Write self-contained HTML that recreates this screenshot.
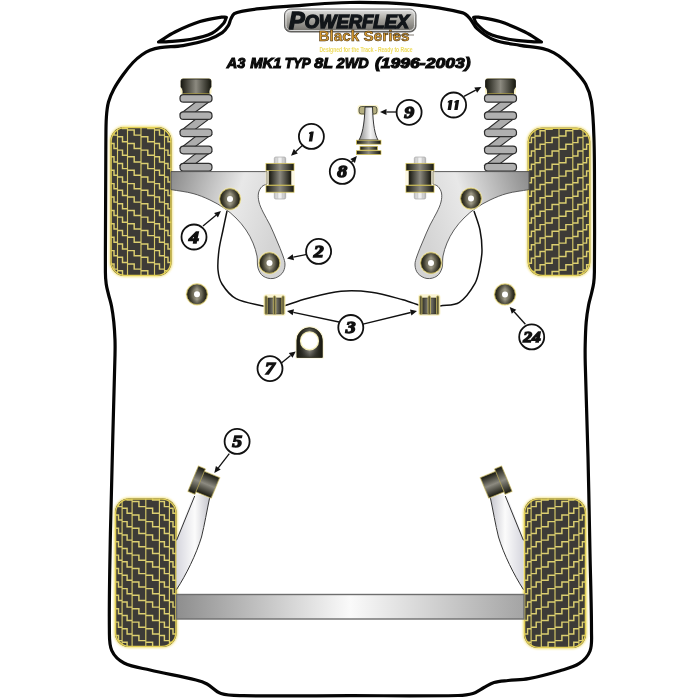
<!DOCTYPE html>
<html><head><meta charset="utf-8"><style>
html,body{margin:0;padding:0;background:#fff;width:700px;height:700px;overflow:hidden}
svg{display:block;font-family:"Liberation Sans", sans-serif;will-change:transform}
</style></head><body>
<svg width="700" height="700" viewBox="0 0 700 700">
<defs>
<linearGradient id="gMount" x1="0" x2="1" y1="0" y2="0">
<stop offset="0" stop-color="#18180f"/><stop offset="0.5" stop-color="#8c8a80"/><stop offset="1" stop-color="#18180f"/></linearGradient>
<linearGradient id="gBolt" x1="0" x2="1"><stop offset="0" stop-color="#c4c4c4"/><stop offset="0.5" stop-color="#f6f6f6"/><stop offset="1" stop-color="#b8b8b8"/></linearGradient>
<linearGradient id="gDonut" x1="0" x2="1" y1="0" y2="0">
<stop offset="0" stop-color="#2a2818"/><stop offset="0.5" stop-color="#a09c88"/><stop offset="1" stop-color="#2a2818"/></linearGradient>
<radialGradient id="gDonutR" cx="0.5" cy="0.5" r="0.5">
<stop offset="0.5" stop-color="#000" stop-opacity="0"/><stop offset="1" stop-color="#1a1a10" stop-opacity="0.6"/></radialGradient>
<linearGradient id="gArm" x1="0" x2="1" y1="0" y2="0.3">
<stop offset="0" stop-color="#8a8a8a"/><stop offset="0.6" stop-color="#e8e8e8"/><stop offset="1" stop-color="#d4d4d4"/></linearGradient>
<linearGradient id="gBeam" x1="0" x2="1" y1="0" y2="0">
<stop offset="0" stop-color="#8e8e8e"/><stop offset="0.5" stop-color="#fafafa"/><stop offset="1" stop-color="#a4a4a4"/></linearGradient>
<linearGradient id="gTrail" x1="0" x2="1" y1="0" y2="0">
<stop offset="0" stop-color="#d6d6de"/><stop offset="0.55" stop-color="#fbfbfb"/><stop offset="1" stop-color="#c4c4cc"/></linearGradient>
<linearGradient id="gMountV" x1="0" x2="0" y1="0" y2="1">
<stop offset="0" stop-color="#18180f"/><stop offset="0.5" stop-color="#8c8a80"/><stop offset="1" stop-color="#18180f"/></linearGradient>
<filter id="glow" x="-20%" y="-20%" width="140%" height="140%"><feGaussianBlur stdDeviation="1.3"/></filter>
<linearGradient id="gPillar" x1="0" x2="1"><stop offset="0" stop-color="#8a8a8a"/><stop offset="0.6" stop-color="#f4f4f4"/><stop offset="1" stop-color="#c8c8c8"/></linearGradient>
<linearGradient id="gLogo" x1="0" x2="0" y1="0" y2="1"><stop offset="0" stop-color="#e4e4e4"/><stop offset="0.45" stop-color="#a8a6a0"/><stop offset="1" stop-color="#6e6d68"/></linearGradient></defs>
<path d="M350.0,2.5 C371.01,2.23 392.08,2.77 413.00,4.70 C429.79,6.25 446.52,8.91 462.90,12.90 C465.85,13.62 467.97,16.34 470.00,18.60 C472.72,21.63 473.95,25.91 477.00,28.60 C482.18,33.16 487.86,37.50 494.30,40.00 C502.45,43.17 511.39,43.78 520.00,45.30 C527.59,46.64 535.37,46.92 542.90,48.60 C546.77,49.47 550.51,51.01 554.00,52.90 C557.60,54.84 560.89,57.35 564.00,60.00 C568.14,63.53 572.07,67.34 575.70,71.40 C579.32,75.46 583.18,79.48 585.70,84.30 C588.49,89.62 590.51,95.46 591.40,101.40 C593.30,114.15 593.59,127.11 594.00,140.00 C594.63,159.99 594.44,180.00 594.50,200.00 C594.57,224.00 594.63,248.00 594.40,272.00 C594.36,275.67 594.19,279.36 593.70,283.00 C593.25,286.38 592.37,289.68 591.60,293.00 C590.67,297.02 589.35,300.95 588.60,305.00 C587.55,310.63 586.68,316.30 586.20,322.00 C585.55,329.65 585.36,337.33 585.20,345.00 C585.06,351.67 585.13,358.34 585.30,365.00 C586.07,395.67 587.24,426.33 588.00,457.00 C588.80,489.33 589.35,521.67 590.00,554.00 C590.52,580.00 591.50,606.00 591.50,632.00 C591.50,638.35 592.28,645.07 590.00,651.00 C588.04,656.07 583.95,660.42 579.40,663.40 C573.62,667.19 566.62,668.72 560.00,670.70 C549.66,673.79 539.21,676.60 528.60,678.60 C521.82,679.88 514.85,679.73 508.00,680.50 C503.32,681.03 498.53,681.18 494.00,682.50 C490.42,683.54 487.30,685.77 484.00,687.50 C480.30,689.44 476.99,692.27 473.00,693.50 C468.18,694.98 463.04,695.41 458.00,695.50 C422.01,696.14 386.00,695.67 350.00,695.70 C314.33,695.73 278.66,696.28 243.00,695.70 C235.63,695.58 228.01,695.88 221.00,693.60 C215.62,691.85 211.97,686.70 207.00,684.00 C203.57,682.14 199.79,680.93 196.00,680.00 C180.76,676.26 165.27,673.61 150.00,670.00 C141.26,667.94 132.01,667.05 124.00,663.00 C118.85,660.40 114.20,655.95 111.80,650.70 C109.05,644.68 109.48,637.61 109.40,631.00 C109.01,598.67 109.83,566.33 110.40,534.00 C110.97,501.66 111.97,469.33 112.80,437.00 C113.50,409.67 114.38,382.34 115.00,355.00 C115.11,350.00 115.18,345.00 115.00,340.00 C114.78,333.99 114.42,327.98 113.80,322.00 C113.25,316.64 112.52,311.29 111.50,306.00 C110.72,301.94 109.37,298.02 108.40,294.00 C107.60,290.68 106.66,287.38 106.20,284.00 C105.66,280.03 105.41,276.01 105.40,272.00 C105.31,228.00 105.62,184.00 105.90,140.00 C105.95,132.33 105.88,124.65 106.40,117.00 C106.74,111.96 107.19,106.88 108.50,102.00 C109.71,97.47 111.69,93.14 113.90,89.00 C116.51,84.10 119.66,79.50 122.90,75.00 C126.03,70.65 129.32,66.39 133.00,62.50 C135.71,59.63 138.79,57.10 142.00,54.80 C144.49,53.02 147.16,51.44 150.00,50.30 C153.21,49.02 156.58,48.09 160.00,47.60 C167.59,46.52 175.34,46.87 182.90,45.60 C191.59,44.13 200.23,42.16 208.60,39.40 C213.44,37.80 218.11,35.51 222.30,32.60 C224.80,30.86 226.68,28.28 228.30,25.70 C229.59,23.64 229.81,21.07 230.90,18.90 C231.83,17.05 232.56,14.83 234.30,13.70 C236.81,12.07 239.96,11.68 242.90,11.10 C248.55,9.98 254.27,9.22 260.00,8.60 C268.98,7.62 277.99,6.91 287.00,6.30 C307.99,4.88 328.96,2.77 350.00,2.50Z" fill="#fff" stroke="#050505" stroke-width="3.2" stroke-linejoin="round"/>
<path d="M158.5,42.0 C164.00,38.67 169.23,34.84 175.00,32.00 C183.10,28.02 191.40,24.34 200.00,21.60 C206.97,19.38 214.28,18.38 221.50,17.20 C223.11,16.94 224.77,17.27 226.40,17.30 C225.43,19.37 225.03,21.81 223.50,23.50 C220.13,27.22 216.50,31.00 212.00,33.20 C205.58,36.34 198.43,37.89 191.40,39.20 C183.03,40.76 174.48,41.08 166.00,41.80 C163.51,42.01 161.00,41.93 158.50,42.00Z" fill="#fff" stroke="#050505" stroke-width="3.2" stroke-linejoin="round"/>
<path d="M158.5,42.0 C164.00,38.67 169.23,34.84 175.00,32.00 C183.10,28.02 191.40,24.34 200.00,21.60 C206.97,19.38 214.28,18.38 221.50,17.20 C223.11,16.94 224.77,17.27 226.40,17.30 C225.43,19.37 225.03,21.81 223.50,23.50 C220.13,27.22 216.50,31.00 212.00,33.20 C205.58,36.34 198.43,37.89 191.40,39.20 C183.03,40.76 174.48,41.08 166.00,41.80 C163.51,42.01 161.00,41.93 158.50,42.00Z" transform="translate(700,0) scale(-1,1)" fill="#fff" stroke="#050505" stroke-width="3.2" stroke-linejoin="round"/>
<clipPath id="flc"><rect x="110.5" y="127" width="61" height="149" rx="14"/></clipPath>
<rect x="109.5" y="126" width="63" height="151" rx="15" fill="#f3e27a" filter="url(#glow)"/>
<rect x="110.5" y="127" width="61" height="149" rx="14" fill="#3d3b37"/>
<path clip-path="url(#flc)" d="M117.5,127.0V276.0 M127.5,127.0V276.0 M141.0,127.0V276.0 M154.5,127.0V276.0 M164.5,127.0V276.0" stroke="#d9cb68" stroke-width="1.15" fill="none"/>
<path clip-path="url(#flc)" d="M110.5,116.6H114.0V121.7H117.5 M110.5,130.0H114.0V135.1H117.5 M110.5,143.4H114.0V148.5H117.5 M110.5,156.8H114.0V161.9H117.5 M110.5,170.2H114.0V175.3H117.5 M110.5,183.6H114.0V188.7H117.5 M110.5,197.0H114.0V202.1H117.5 M110.5,210.4H114.0V215.5H117.5 M110.5,223.8H114.0V228.9H117.5 M110.5,237.2H114.0V242.3H117.5 M110.5,250.6H114.0V255.7H117.5 M110.5,264.0H114.0V269.1H117.5 M110.5,277.4H114.0V282.5H117.5 M117.5,109.9H122.5V115.0H127.5 M117.5,123.3H122.5V128.4H127.5 M117.5,136.7H122.5V141.8H127.5 M117.5,150.1H122.5V155.2H127.5 M117.5,163.5H122.5V168.6H127.5 M117.5,176.9H122.5V182.0H127.5 M117.5,190.3H122.5V195.4H127.5 M117.5,203.7H122.5V208.8H127.5 M117.5,217.1H122.5V222.2H127.5 M117.5,230.5H122.5V235.6H127.5 M117.5,243.9H122.5V249.0H127.5 M117.5,257.3H122.5V262.4H127.5 M117.5,270.7H122.5V275.8H127.5 M117.5,284.1H122.5V289.2H127.5 M127.5,116.6H134.2V121.7H141.0 M127.5,130.0H134.2V135.1H141.0 M127.5,143.4H134.2V148.5H141.0 M127.5,156.8H134.2V161.9H141.0 M127.5,170.2H134.2V175.3H141.0 M127.5,183.6H134.2V188.7H141.0 M127.5,197.0H134.2V202.1H141.0 M127.5,210.4H134.2V215.5H141.0 M127.5,223.8H134.2V228.9H141.0 M127.5,237.2H134.2V242.3H141.0 M127.5,250.6H134.2V255.7H141.0 M127.5,264.0H134.2V269.1H141.0 M127.5,277.4H134.2V282.5H141.0 M141.0,109.9H147.8V115.0H154.5 M141.0,123.3H147.8V128.4H154.5 M141.0,136.7H147.8V141.8H154.5 M141.0,150.1H147.8V155.2H154.5 M141.0,163.5H147.8V168.6H154.5 M141.0,176.9H147.8V182.0H154.5 M141.0,190.3H147.8V195.4H154.5 M141.0,203.7H147.8V208.8H154.5 M141.0,217.1H147.8V222.2H154.5 M141.0,230.5H147.8V235.6H154.5 M141.0,243.9H147.8V249.0H154.5 M141.0,257.3H147.8V262.4H154.5 M141.0,270.7H147.8V275.8H154.5 M141.0,284.1H147.8V289.2H154.5 M154.5,116.6H159.5V121.7H164.5 M154.5,130.0H159.5V135.1H164.5 M154.5,143.4H159.5V148.5H164.5 M154.5,156.8H159.5V161.9H164.5 M154.5,170.2H159.5V175.3H164.5 M154.5,183.6H159.5V188.7H164.5 M154.5,197.0H159.5V202.1H164.5 M154.5,210.4H159.5V215.5H164.5 M154.5,223.8H159.5V228.9H164.5 M154.5,237.2H159.5V242.3H164.5 M154.5,250.6H159.5V255.7H164.5 M154.5,264.0H159.5V269.1H164.5 M154.5,277.4H159.5V282.5H164.5 M164.5,109.9H168.0V115.0H171.5 M164.5,123.3H168.0V128.4H171.5 M164.5,136.7H168.0V141.8H171.5 M164.5,150.1H168.0V155.2H171.5 M164.5,163.5H168.0V168.6H171.5 M164.5,176.9H168.0V182.0H171.5 M164.5,190.3H168.0V195.4H171.5 M164.5,203.7H168.0V208.8H171.5 M164.5,217.1H168.0V222.2H171.5 M164.5,230.5H168.0V235.6H171.5 M164.5,243.9H168.0V249.0H171.5 M164.5,257.3H168.0V262.4H171.5 M164.5,270.7H168.0V275.8H171.5 M164.5,284.1H168.0V289.2H171.5" stroke="#dccf70" stroke-width="1.45" fill="none"/>
<rect x="111.1" y="127.6" width="59.8" height="147.8" rx="14" fill="none" stroke="#e2cf55" stroke-width="1.4"/>
<clipPath id="frc"><rect x="527.8" y="127.8" width="62.4" height="148.2" rx="14"/></clipPath>
<rect x="526.8" y="126.8" width="64.4" height="150.2" rx="15" fill="#f3e27a" filter="url(#glow)"/>
<rect x="527.8" y="127.8" width="62.4" height="148.2" rx="14" fill="#3d3b37"/>
<path clip-path="url(#frc)" d="M535.0,127.8V276.0 M545.2,127.8V276.0 M559.0,127.8V276.0 M572.8,127.8V276.0 M583.0,127.8V276.0" stroke="#d9cb68" stroke-width="1.15" fill="none"/>
<path clip-path="url(#frc)" d="M590.2,117.4H586.6V122.5H583.0 M590.2,130.8H586.6V135.9H583.0 M590.2,144.2H586.6V149.3H583.0 M590.2,157.6H586.6V162.7H583.0 M590.2,171.0H586.6V176.1H583.0 M590.2,184.4H586.6V189.5H583.0 M590.2,197.8H586.6V202.9H583.0 M590.2,211.2H586.6V216.3H583.0 M590.2,224.6H586.6V229.7H583.0 M590.2,238.0H586.6V243.1H583.0 M590.2,251.4H586.6V256.5H583.0 M590.2,264.8H586.6V269.9H583.0 M590.2,278.2H586.6V283.3H583.0 M583.0,110.7H577.9V115.8H572.8 M583.0,124.1H577.9V129.2H572.8 M583.0,137.5H577.9V142.6H572.8 M583.0,150.9H577.9V156.0H572.8 M583.0,164.3H577.9V169.4H572.8 M583.0,177.7H577.9V182.8H572.8 M583.0,191.1H577.9V196.2H572.8 M583.0,204.5H577.9V209.6H572.8 M583.0,217.9H577.9V223.0H572.8 M583.0,231.3H577.9V236.4H572.8 M583.0,244.7H577.9V249.8H572.8 M583.0,258.1H577.9V263.2H572.8 M583.0,271.5H577.9V276.6H572.8 M583.0,284.9H577.9V290.0H572.8 M572.8,117.4H565.9V122.5H559.0 M572.8,130.8H565.9V135.9H559.0 M572.8,144.2H565.9V149.3H559.0 M572.8,157.6H565.9V162.7H559.0 M572.8,171.0H565.9V176.1H559.0 M572.8,184.4H565.9V189.5H559.0 M572.8,197.8H565.9V202.9H559.0 M572.8,211.2H565.9V216.3H559.0 M572.8,224.6H565.9V229.7H559.0 M572.8,238.0H565.9V243.1H559.0 M572.8,251.4H565.9V256.5H559.0 M572.8,264.8H565.9V269.9H559.0 M572.8,278.2H565.9V283.3H559.0 M559.0,110.7H552.1V115.8H545.2 M559.0,124.1H552.1V129.2H545.2 M559.0,137.5H552.1V142.6H545.2 M559.0,150.9H552.1V156.0H545.2 M559.0,164.3H552.1V169.4H545.2 M559.0,177.7H552.1V182.8H545.2 M559.0,191.1H552.1V196.2H545.2 M559.0,204.5H552.1V209.6H545.2 M559.0,217.9H552.1V223.0H545.2 M559.0,231.3H552.1V236.4H545.2 M559.0,244.7H552.1V249.8H545.2 M559.0,258.1H552.1V263.2H545.2 M559.0,271.5H552.1V276.6H545.2 M559.0,284.9H552.1V290.0H545.2 M545.2,117.4H540.1V122.5H535.0 M545.2,130.8H540.1V135.9H535.0 M545.2,144.2H540.1V149.3H535.0 M545.2,157.6H540.1V162.7H535.0 M545.2,171.0H540.1V176.1H535.0 M545.2,184.4H540.1V189.5H535.0 M545.2,197.8H540.1V202.9H535.0 M545.2,211.2H540.1V216.3H535.0 M545.2,224.6H540.1V229.7H535.0 M545.2,238.0H540.1V243.1H535.0 M545.2,251.4H540.1V256.5H535.0 M545.2,264.8H540.1V269.9H535.0 M545.2,278.2H540.1V283.3H535.0 M535.0,110.7H531.4V115.8H527.8 M535.0,124.1H531.4V129.2H527.8 M535.0,137.5H531.4V142.6H527.8 M535.0,150.9H531.4V156.0H527.8 M535.0,164.3H531.4V169.4H527.8 M535.0,177.7H531.4V182.8H527.8 M535.0,191.1H531.4V196.2H527.8 M535.0,204.5H531.4V209.6H527.8 M535.0,217.9H531.4V223.0H527.8 M535.0,231.3H531.4V236.4H527.8 M535.0,244.7H531.4V249.8H527.8 M535.0,258.1H531.4V263.2H527.8 M535.0,271.5H531.4V276.6H527.8 M535.0,284.9H531.4V290.0H527.8" stroke="#dccf70" stroke-width="1.45" fill="none"/>
<rect x="528.4" y="128.4" width="61.199999999999996" height="147.0" rx="14" fill="none" stroke="#e2cf55" stroke-width="1.4"/>
<clipPath id="rlc"><rect x="115" y="498.5" width="61.5" height="148.5" rx="14"/></clipPath>
<rect x="114" y="497.5" width="63.5" height="150.5" rx="15" fill="#f3e27a" filter="url(#glow)"/>
<rect x="115" y="498.5" width="61.5" height="148.5" rx="14" fill="#3d3b37"/>
<path clip-path="url(#rlc)" d="M122.1,498.5V647.0 M132.1,498.5V647.0 M145.8,498.5V647.0 M159.4,498.5V647.0 M169.4,498.5V647.0" stroke="#d9cb68" stroke-width="1.15" fill="none"/>
<path clip-path="url(#rlc)" d="M115.0,488.1H118.5V493.2H122.1 M115.0,501.5H118.5V506.6H122.1 M115.0,514.9H118.5V520.0H122.1 M115.0,528.3H118.5V533.4H122.1 M115.0,541.7H118.5V546.8H122.1 M115.0,555.1H118.5V560.2H122.1 M115.0,568.5H118.5V573.6H122.1 M115.0,581.9H118.5V587.0H122.1 M115.0,595.3H118.5V600.4H122.1 M115.0,608.7H118.5V613.8H122.1 M115.0,622.1H118.5V627.2H122.1 M115.0,635.5H118.5V640.6H122.1 M115.0,648.9H118.5V654.0H122.1 M122.1,481.4H127.1V486.5H132.1 M122.1,494.8H127.1V499.9H132.1 M122.1,508.2H127.1V513.3H132.1 M122.1,521.6H127.1V526.7H132.1 M122.1,535.0H127.1V540.1H132.1 M122.1,548.4H127.1V553.5H132.1 M122.1,561.8H127.1V566.9H132.1 M122.1,575.2H127.1V580.3H132.1 M122.1,588.6H127.1V593.7H132.1 M122.1,602.0H127.1V607.1H132.1 M122.1,615.4H127.1V620.5H132.1 M122.1,628.8H127.1V633.9H132.1 M122.1,642.2H127.1V647.3H132.1 M122.1,655.6H127.1V660.7H132.1 M132.1,488.1H138.9V493.2H145.8 M132.1,501.5H138.9V506.6H145.8 M132.1,514.9H138.9V520.0H145.8 M132.1,528.3H138.9V533.4H145.8 M132.1,541.7H138.9V546.8H145.8 M132.1,555.1H138.9V560.2H145.8 M132.1,568.5H138.9V573.6H145.8 M132.1,581.9H138.9V587.0H145.8 M132.1,595.3H138.9V600.4H145.8 M132.1,608.7H138.9V613.8H145.8 M132.1,622.1H138.9V627.2H145.8 M132.1,635.5H138.9V640.6H145.8 M132.1,648.9H138.9V654.0H145.8 M145.8,481.4H152.6V486.5H159.4 M145.8,494.8H152.6V499.9H159.4 M145.8,508.2H152.6V513.3H159.4 M145.8,521.6H152.6V526.7H159.4 M145.8,535.0H152.6V540.1H159.4 M145.8,548.4H152.6V553.5H159.4 M145.8,561.8H152.6V566.9H159.4 M145.8,575.2H152.6V580.3H159.4 M145.8,588.6H152.6V593.7H159.4 M145.8,602.0H152.6V607.1H159.4 M145.8,615.4H152.6V620.5H159.4 M145.8,628.8H152.6V633.9H159.4 M145.8,642.2H152.6V647.3H159.4 M145.8,655.6H152.6V660.7H159.4 M159.4,488.1H164.4V493.2H169.4 M159.4,501.5H164.4V506.6H169.4 M159.4,514.9H164.4V520.0H169.4 M159.4,528.3H164.4V533.4H169.4 M159.4,541.7H164.4V546.8H169.4 M159.4,555.1H164.4V560.2H169.4 M159.4,568.5H164.4V573.6H169.4 M159.4,581.9H164.4V587.0H169.4 M159.4,595.3H164.4V600.4H169.4 M159.4,608.7H164.4V613.8H169.4 M159.4,622.1H164.4V627.2H169.4 M159.4,635.5H164.4V640.6H169.4 M159.4,648.9H164.4V654.0H169.4 M169.4,481.4H173.0V486.5H176.5 M169.4,494.8H173.0V499.9H176.5 M169.4,508.2H173.0V513.3H176.5 M169.4,521.6H173.0V526.7H176.5 M169.4,535.0H173.0V540.1H176.5 M169.4,548.4H173.0V553.5H176.5 M169.4,561.8H173.0V566.9H176.5 M169.4,575.2H173.0V580.3H176.5 M169.4,588.6H173.0V593.7H176.5 M169.4,602.0H173.0V607.1H176.5 M169.4,615.4H173.0V620.5H176.5 M169.4,628.8H173.0V633.9H176.5 M169.4,642.2H173.0V647.3H176.5 M169.4,655.6H173.0V660.7H176.5" stroke="#dccf70" stroke-width="1.45" fill="none"/>
<rect x="115.6" y="499.1" width="60.3" height="147.3" rx="14" fill="none" stroke="#e2cf55" stroke-width="1.4"/>
<clipPath id="rrc"><rect x="524" y="498.5" width="62" height="149.5" rx="14"/></clipPath>
<rect x="523" y="497.5" width="64" height="151.5" rx="15" fill="#f3e27a" filter="url(#glow)"/>
<rect x="524" y="498.5" width="62" height="149.5" rx="14" fill="#3d3b37"/>
<path clip-path="url(#rrc)" d="M531.1,498.5V648.0 M541.3,498.5V648.0 M555.0,498.5V648.0 M568.7,498.5V648.0 M578.9,498.5V648.0" stroke="#d9cb68" stroke-width="1.15" fill="none"/>
<path clip-path="url(#rrc)" d="M586.0,488.1H582.4V493.2H578.9 M586.0,501.5H582.4V506.6H578.9 M586.0,514.9H582.4V520.0H578.9 M586.0,528.3H582.4V533.4H578.9 M586.0,541.7H582.4V546.8H578.9 M586.0,555.1H582.4V560.2H578.9 M586.0,568.5H582.4V573.6H578.9 M586.0,581.9H582.4V587.0H578.9 M586.0,595.3H582.4V600.4H578.9 M586.0,608.7H582.4V613.8H578.9 M586.0,622.1H582.4V627.2H578.9 M586.0,635.5H582.4V640.6H578.9 M586.0,648.9H582.4V654.0H578.9 M578.9,481.4H573.8V486.5H568.7 M578.9,494.8H573.8V499.9H568.7 M578.9,508.2H573.8V513.3H568.7 M578.9,521.6H573.8V526.7H568.7 M578.9,535.0H573.8V540.1H568.7 M578.9,548.4H573.8V553.5H568.7 M578.9,561.8H573.8V566.9H568.7 M578.9,575.2H573.8V580.3H568.7 M578.9,588.6H573.8V593.7H568.7 M578.9,602.0H573.8V607.1H568.7 M578.9,615.4H573.8V620.5H568.7 M578.9,628.8H573.8V633.9H568.7 M578.9,642.2H573.8V647.3H568.7 M578.9,655.6H573.8V660.7H568.7 M568.7,488.1H561.9V493.2H555.0 M568.7,501.5H561.9V506.6H555.0 M568.7,514.9H561.9V520.0H555.0 M568.7,528.3H561.9V533.4H555.0 M568.7,541.7H561.9V546.8H555.0 M568.7,555.1H561.9V560.2H555.0 M568.7,568.5H561.9V573.6H555.0 M568.7,581.9H561.9V587.0H555.0 M568.7,595.3H561.9V600.4H555.0 M568.7,608.7H561.9V613.8H555.0 M568.7,622.1H561.9V627.2H555.0 M568.7,635.5H561.9V640.6H555.0 M568.7,648.9H561.9V654.0H555.0 M555.0,481.4H548.1V486.5H541.3 M555.0,494.8H548.1V499.9H541.3 M555.0,508.2H548.1V513.3H541.3 M555.0,521.6H548.1V526.7H541.3 M555.0,535.0H548.1V540.1H541.3 M555.0,548.4H548.1V553.5H541.3 M555.0,561.8H548.1V566.9H541.3 M555.0,575.2H548.1V580.3H541.3 M555.0,588.6H548.1V593.7H541.3 M555.0,602.0H548.1V607.1H541.3 M555.0,615.4H548.1V620.5H541.3 M555.0,628.8H548.1V633.9H541.3 M555.0,642.2H548.1V647.3H541.3 M555.0,655.6H548.1V660.7H541.3 M541.3,488.1H536.2V493.2H531.1 M541.3,501.5H536.2V506.6H531.1 M541.3,514.9H536.2V520.0H531.1 M541.3,528.3H536.2V533.4H531.1 M541.3,541.7H536.2V546.8H531.1 M541.3,555.1H536.2V560.2H531.1 M541.3,568.5H536.2V573.6H531.1 M541.3,581.9H536.2V587.0H531.1 M541.3,595.3H536.2V600.4H531.1 M541.3,608.7H536.2V613.8H531.1 M541.3,622.1H536.2V627.2H531.1 M541.3,635.5H536.2V640.6H531.1 M541.3,648.9H536.2V654.0H531.1 M531.1,481.4H527.6V486.5H524.0 M531.1,494.8H527.6V499.9H524.0 M531.1,508.2H527.6V513.3H524.0 M531.1,521.6H527.6V526.7H524.0 M531.1,535.0H527.6V540.1H524.0 M531.1,548.4H527.6V553.5H524.0 M531.1,561.8H527.6V566.9H524.0 M531.1,575.2H527.6V580.3H524.0 M531.1,588.6H527.6V593.7H524.0 M531.1,602.0H527.6V607.1H524.0 M531.1,615.4H527.6V620.5H524.0 M531.1,628.8H527.6V633.9H524.0 M531.1,642.2H527.6V647.3H524.0 M531.1,655.6H527.6V660.7H524.0" stroke="#dccf70" stroke-width="1.45" fill="none"/>
<rect x="524.6" y="499.1" width="60.8" height="148.3" rx="14" fill="none" stroke="#e2cf55" stroke-width="1.4"/>
<rect x="180.5" y="78" width="31" height="17" rx="3" fill="#f8eeb0" opacity="0.7"/>
<path d="M181,81 Q181,79 183,79 H209 Q211,79 211,81 V87 Q209,89 209,91 V94 H183 V91 Q183,89 181,87 Z" fill="url(#gMount)" stroke="#1a1a1a" stroke-width="0.8"/>
<line x1="183" y1="94" x2="209" y2="94" stroke="#e0cc50" stroke-width="1"/>
<path d="M198.08,100.19999999999999 L211.18,100.19999999999999 L193.12,113.8 L180.52,113.8 Z" fill="#adadad" stroke="#2a2a2a" stroke-width="1.1"/>
<path d="M198.08,117.39999999999999 L211.18,117.39999999999999 L193.12,131.0 L180.52,131.0 Z" fill="#adadad" stroke="#2a2a2a" stroke-width="1.1"/>
<path d="M198.08,134.6 L211.18,134.6 L193.12,148.2 L180.52,148.2 Z" fill="#adadad" stroke="#2a2a2a" stroke-width="1.1"/>
<path d="M198.08,151.79999999999998 L211.18,151.79999999999998 L193.12,165.4 L180.52,165.4 Z" fill="#adadad" stroke="#2a2a2a" stroke-width="1.1"/>
<rect x="180" y="94.6" width="32" height="7.6" rx="3.5" fill="#b0b0b0" stroke="#2e2e2e" stroke-width="1.2"/>
<rect x="180" y="111.8" width="32" height="7.6" rx="3.5" fill="#b0b0b0" stroke="#2e2e2e" stroke-width="1.2"/>
<rect x="180" y="129.0" width="32" height="7.6" rx="3.5" fill="#b0b0b0" stroke="#2e2e2e" stroke-width="1.2"/>
<rect x="180" y="146.2" width="32" height="7.6" rx="3.5" fill="#b0b0b0" stroke="#2e2e2e" stroke-width="1.2"/>
<rect x="180" y="163.4" width="32" height="7.6" rx="3.5" fill="#b0b0b0" stroke="#2e2e2e" stroke-width="1.2"/>
<rect x="485.0" y="78" width="31" height="17" rx="3" fill="#f8eeb0" opacity="0.7"/>
<path d="M485.5,81 Q485.5,79 487.5,79 H513.5 Q515.5,79 515.5,81 V87 Q513.5,89 513.5,91 V94 H487.5 V91 Q487.5,89 485.5,87 Z" fill="url(#gMount)" stroke="#1a1a1a" stroke-width="0.8"/>
<line x1="487.5" y1="94" x2="513.5" y2="94" stroke="#e0cc50" stroke-width="1"/>
<path d="M502.58,100.19999999999999 L515.68,100.19999999999999 L497.62,113.8 L485.02,113.8 Z" fill="#adadad" stroke="#2a2a2a" stroke-width="1.1"/>
<path d="M502.58,117.39999999999999 L515.68,117.39999999999999 L497.62,131.0 L485.02,131.0 Z" fill="#adadad" stroke="#2a2a2a" stroke-width="1.1"/>
<path d="M502.58,134.6 L515.68,134.6 L497.62,148.2 L485.02,148.2 Z" fill="#adadad" stroke="#2a2a2a" stroke-width="1.1"/>
<path d="M502.58,151.79999999999998 L515.68,151.79999999999998 L497.62,165.4 L485.02,165.4 Z" fill="#adadad" stroke="#2a2a2a" stroke-width="1.1"/>
<rect x="484.5" y="94.6" width="32" height="7.6" rx="3.5" fill="#b0b0b0" stroke="#2e2e2e" stroke-width="1.2"/>
<rect x="484.5" y="111.8" width="32" height="7.6" rx="3.5" fill="#b0b0b0" stroke="#2e2e2e" stroke-width="1.2"/>
<rect x="484.5" y="129.0" width="32" height="7.6" rx="3.5" fill="#b0b0b0" stroke="#2e2e2e" stroke-width="1.2"/>
<rect x="484.5" y="146.2" width="32" height="7.6" rx="3.5" fill="#b0b0b0" stroke="#2e2e2e" stroke-width="1.2"/>
<rect x="484.5" y="163.4" width="32" height="7.6" rx="3.5" fill="#b0b0b0" stroke="#2e2e2e" stroke-width="1.2"/>
<path d="M171,171.6 H267 V184 C265.33,184.83 263.28,185.15 262.00,186.50 C260.31,188.29 258.97,190.58 258.50,193.00 C257.93,195.95 258.31,199.08 259.00,202.00 C259.83,205.49 261.45,208.76 263.00,212.00 C265.12,216.44 267.86,220.57 270.00,225.00 C272.53,230.24 274.75,235.63 277.00,241.00 C279.08,245.97 281.30,250.89 283.00,256.00 C283.97,258.92 285.18,261.93 285.00,265.00 C284.83,268.00 284.00,271.25 282.00,273.50 C279.72,276.07 276.40,278.05 273.00,278.50 C269.59,278.95 265.81,277.97 263.00,276.00 C260.42,274.20 258.90,271.01 258.00,268.00 C256.85,264.16 257.79,259.94 257.00,256.00 C256.11,251.55 254.77,247.18 253.00,243.00 C251.08,238.47 248.77,234.07 246.00,230.00 C243.07,225.69 239.68,221.68 236.00,218.00 C232.32,214.32 228.28,210.96 224.00,208.00 C219.58,204.94 214.87,202.28 210.00,200.00 C204.50,197.43 198.86,195.06 193.00,193.50 C185.80,191.58 178.33,190.90 171.00,189.60 Z" fill="url(#gArm)" stroke="#4a4a4a" stroke-width="0.9"/>
<g transform="translate(700,0) scale(-1,1)"><path d="M171,171.6 H267 V184 C265.33,184.83 263.28,185.15 262.00,186.50 C260.31,188.29 258.97,190.58 258.50,193.00 C257.93,195.95 258.31,199.08 259.00,202.00 C259.83,205.49 261.45,208.76 263.00,212.00 C265.12,216.44 267.86,220.57 270.00,225.00 C272.53,230.24 274.75,235.63 277.00,241.00 C279.08,245.97 281.30,250.89 283.00,256.00 C283.97,258.92 285.18,261.93 285.00,265.00 C284.83,268.00 284.00,271.25 282.00,273.50 C279.72,276.07 276.40,278.05 273.00,278.50 C269.59,278.95 265.81,277.97 263.00,276.00 C260.42,274.20 258.90,271.01 258.00,268.00 C256.85,264.16 257.79,259.94 257.00,256.00 C256.11,251.55 254.77,247.18 253.00,243.00 C251.08,238.47 248.77,234.07 246.00,230.00 C243.07,225.69 239.68,221.68 236.00,218.00 C232.32,214.32 228.28,210.96 224.00,208.00 C219.58,204.94 214.87,202.28 210.00,200.00 C204.50,197.43 198.86,195.06 193.00,193.50 C185.80,191.58 178.33,190.90 171.00,189.60 Z" fill="url(#gArm)" stroke="#4a4a4a" stroke-width="0.9"/></g>
<rect x="274.3" y="157" width="11.4" height="42" rx="1.5" fill="url(#gBolt)" stroke="#9a9a9a" stroke-width="0.6"/>
<line x1="277.6" y1="157.5" x2="277.6" y2="198.5" stroke="#bdbdbd" stroke-width="0.5"/><line x1="282.4" y1="157.5" x2="282.4" y2="198.5" stroke="#bdbdbd" stroke-width="0.5"/>
<rect x="265.2" y="162.8" width="29.6" height="30.4" fill="#f6ecb0" opacity="0.35"/>
<rect x="269" y="170.5" width="22" height="15" fill="url(#gMount)" stroke="#3a3520" stroke-width="0.6"/>
<line x1="269" y1="185.3" x2="291" y2="185.3" stroke="#d8cc60" stroke-width="1.2"/>
<rect x="266" y="163.6" width="28" height="7" fill="url(#gMount)" stroke="#cdbd58" stroke-width="0.7"/>
<rect x="266" y="185.6" width="28" height="6.6" fill="url(#gMount)" stroke="#cdbd58" stroke-width="0.7"/>
<rect x="414.3" y="157" width="11.4" height="42" rx="1.5" fill="url(#gBolt)" stroke="#9a9a9a" stroke-width="0.6"/>
<line x1="417.6" y1="157.5" x2="417.6" y2="198.5" stroke="#bdbdbd" stroke-width="0.5"/><line x1="422.4" y1="157.5" x2="422.4" y2="198.5" stroke="#bdbdbd" stroke-width="0.5"/>
<rect x="405.2" y="162.8" width="29.6" height="30.4" fill="#f6ecb0" opacity="0.35"/>
<rect x="409" y="170.5" width="22" height="15" fill="url(#gMount)" stroke="#3a3520" stroke-width="0.6"/>
<line x1="409" y1="185.3" x2="431" y2="185.3" stroke="#d8cc60" stroke-width="1.2"/>
<rect x="406" y="163.6" width="28" height="7" fill="url(#gMount)" stroke="#cdbd58" stroke-width="0.7"/>
<rect x="406" y="185.6" width="28" height="6.6" fill="url(#gMount)" stroke="#cdbd58" stroke-width="0.7"/>
<circle cx="230" cy="199" r="11.4" fill="#f6ecb0" opacity="0.7"/>
<circle cx="230" cy="199" r="10.4" fill="url(#gDonut)"/>
<circle cx="230" cy="199" r="10.4" fill="url(#gDonutR)" stroke="#d9c96a" stroke-width="0.8"/>
<circle cx="230" cy="199" r="3" fill="#fff"/>
<circle cx="269.5" cy="263" r="11.4" fill="#f6ecb0" opacity="0.7"/>
<circle cx="269.5" cy="263" r="10.4" fill="url(#gDonut)"/>
<circle cx="269.5" cy="263" r="10.4" fill="url(#gDonutR)" stroke="#d9c96a" stroke-width="0.8"/>
<circle cx="269.5" cy="263" r="3" fill="#fff"/>
<circle cx="471" cy="198.6" r="11.4" fill="#f6ecb0" opacity="0.7"/>
<circle cx="471" cy="198.6" r="10.4" fill="url(#gDonut)"/>
<circle cx="471" cy="198.6" r="10.4" fill="url(#gDonutR)" stroke="#d9c96a" stroke-width="0.8"/>
<circle cx="471" cy="198.6" r="3" fill="#fff"/>
<circle cx="431" cy="263" r="11.4" fill="#f6ecb0" opacity="0.7"/>
<circle cx="431" cy="263" r="10.4" fill="url(#gDonut)"/>
<circle cx="431" cy="263" r="10.4" fill="url(#gDonutR)" stroke="#d9c96a" stroke-width="0.8"/>
<circle cx="431" cy="263" r="3" fill="#fff"/>
<circle cx="197" cy="294.3" r="11.4" fill="#f6ecb0" opacity="0.7"/>
<circle cx="197" cy="294.3" r="10.4" fill="url(#gDonut)"/>
<circle cx="197" cy="294.3" r="10.4" fill="url(#gDonutR)" stroke="#d9c96a" stroke-width="0.8"/>
<circle cx="197" cy="294.3" r="3" fill="#fff"/>
<circle cx="505" cy="294.4" r="11.4" fill="#f6ecb0" opacity="0.7"/>
<circle cx="505" cy="294.4" r="10.4" fill="url(#gDonut)"/>
<circle cx="505" cy="294.4" r="10.4" fill="url(#gDonutR)" stroke="#d9c96a" stroke-width="0.8"/>
<circle cx="505" cy="294.4" r="3" fill="#fff"/>
<path d="M227.0,211.0 C225.67,217.33 224.30,223.66 223.00,230.00 C221.63,236.66 219.84,243.25 219.00,250.00 C218.17,256.62 217.41,263.35 218.00,270.00 C218.43,274.83 219.41,279.89 222.00,284.00 C225.59,289.71 230.03,295.47 236.00,298.60 C244.71,303.17 255.00,303.73 264.50,306.30" fill="none" stroke="#111" stroke-width="1.5"/>
<path d="M284.5,305.8 C292.00,303.37 299.37,300.47 307.00,298.50 C318.22,295.60 329.46,292.33 341.00,291.20 C351.09,290.21 361.36,290.80 371.40,292.20 C382.10,293.69 392.48,296.96 402.90,299.80 C408.52,301.33 413.97,303.47 419.50,305.30" fill="none" stroke="#111" stroke-width="1.5"/>
<path d="M440.0,306.0 C446.47,304.77 453.87,305.87 459.40,302.30 C466.26,297.87 470.97,290.50 475.00,283.40 C477.98,278.15 478.76,271.91 480.00,266.00 C481.10,260.74 482.00,255.37 482.00,250.00 C482.00,243.30 481.35,236.56 480.00,230.00 C478.67,223.49 476.00,217.33 474.00,211.00" fill="none" stroke="#111" stroke-width="1.5"/>
<rect x="263.3" y="294.3" width="22.5" height="21.7" rx="3" fill="#f8f0c0" opacity="0.7"/>
<rect x="265.8" y="298.0" width="17.5" height="16" fill="url(#gMount)" stroke="#3a3520" stroke-width="0.6"/>
<rect x="264.8" y="295.8" width="2.5" height="18.7" rx="1.2" fill="#5e5a3a" stroke="#d2c468" stroke-width="0.7"/>
<rect x="273.3" y="295.8" width="2.5" height="18.7" rx="1.2" fill="#5e5a3a" stroke="#d2c468" stroke-width="0.7"/>
<rect x="281.8" y="295.8" width="2.5" height="18.7" rx="1.2" fill="#5e5a3a" stroke="#d2c468" stroke-width="0.7"/>
<rect x="418.0" y="294.3" width="22.5" height="21.7" rx="3" fill="#f8f0c0" opacity="0.7"/>
<rect x="420.5" y="298.0" width="17.5" height="16" fill="url(#gMount)" stroke="#3a3520" stroke-width="0.6"/>
<rect x="419.5" y="295.8" width="2.5" height="18.7" rx="1.2" fill="#5e5a3a" stroke="#d2c468" stroke-width="0.7"/>
<rect x="428.0" y="295.8" width="2.5" height="18.7" rx="1.2" fill="#5e5a3a" stroke="#d2c468" stroke-width="0.7"/>
<rect x="436.5" y="295.8" width="2.5" height="18.7" rx="1.2" fill="#5e5a3a" stroke="#d2c468" stroke-width="0.7"/>
<path d="M295.5,358.5 V340.4 A14.1,14.1 0 0 1 323.7,340.4 V358.5 Z" fill="#f8f0c0" opacity="0.7"/>
<path d="M296.9,357.4 V340.4 A12.7,12.7 0 0 1 322.3,340.4 V357.4 Z" fill="url(#gMount)" stroke="#2a2818" stroke-width="0.8"/>
<path d="M296.9,357.4 V340.4 A12.7,12.7 0 0 1 322.3,340.4 V357.4 Z" fill="url(#gDonutR)"/>
<circle cx="309.5" cy="340.9" r="9.6" fill="#f4eeb8"/>
<circle cx="309.5" cy="340.9" r="8.4" fill="#fff"/>
<rect x="357.5" y="105" width="21" height="10" rx="3" fill="#f8f0c0" opacity="0.8"/>
<rect x="359" y="106.5" width="18" height="7.5" rx="2.5" fill="#b4ae80" stroke="#3a3a2a" stroke-width="0.8"/>
<path d="M365,107 H372.5 C373,125 375,135 378,140 H359 C362,135 364.5,125 365,107 Z" fill="url(#gPillar)" stroke="#222" stroke-width="0.9"/>
<rect x="356.5" y="140.2" width="24.5" height="4" fill="url(#gMount)" stroke="#d8c450" stroke-width="0.7"/>
<rect x="360" y="146.3" width="17.5" height="3.8" fill="url(#gMount)" stroke="#d8c450" stroke-width="0.7"/>
<rect x="356.5" y="150.7" width="24.5" height="3.8" fill="url(#gMount)" stroke="#d8c450" stroke-width="0.7"/>
<rect x="176.5" y="594.5" width="347.5" height="24.5" fill="url(#gBeam)" stroke="#6e6e6e" stroke-width="1.4"/>
<g><path d="M193.5,494 L176.5,539.5 L176.5,590 C186,575 196,555 201,537 C204,525 207,510 210,496 Z" fill="url(#gTrail)"/><path d="M194.7,496 L176.6,540.3 M176.6,589.5 C186,575 196,555 201.5,537 C204.5,525 207,510 209.8,497" fill="none" stroke="#333" stroke-width="1"/></g>
<g transform="translate(700,0) scale(-1,1)"><path d="M193.5,494 L176.5,539.5 L176.5,590 C186,575 196,555 201,537 C204,525 207,510 210,496 Z" fill="url(#gTrail)"/><path d="M194.7,496 L176.6,540.3 M176.6,589.5 C186,575 196,555 201.5,537 C204.5,525 207,510 209.8,497" fill="none" stroke="#333" stroke-width="1"/></g>
<g transform="translate(204.3,471.4) rotate(22.5)"><rect x="-8.2" y="-3.6" width="9" height="29.2" fill="#f6eebb" opacity="0.6"/><rect x="-1" y="-1" width="18.5" height="24" fill="#f6eebb" opacity="0.6"/>
<rect x="0" y="0" width="16.5" height="22" fill="url(#gMountV)" stroke="#a89a50" stroke-width="0.6"/>
<rect x="-7.4" y="-2.6" width="7.4" height="27.2" fill="url(#gMountV)" stroke="#a89a50" stroke-width="0.6"/></g>
<g transform="translate(700,0) scale(-1,1) translate(204.3,471.4) rotate(22.5)"><rect x="-8.2" y="-3.6" width="9" height="29.2" fill="#f6eebb" opacity="0.6"/><rect x="-1" y="-1" width="18.5" height="24" fill="#f6eebb" opacity="0.6"/>
<rect x="0" y="0" width="16.5" height="22" fill="url(#gMountV)" stroke="#a89a50" stroke-width="0.6"/>
<rect x="-7.4" y="-2.6" width="7.4" height="27.2" fill="url(#gMountV)" stroke="#a89a50" stroke-width="0.6"/></g>
<line x1="302.9" y1="145" x2="295.8" y2="151.4" stroke="#111" stroke-width="1.3"/>
<path d="M291,155.7 L293.8,149.1 L297.8,153.6 Z" fill="#111"/>
<line x1="307" y1="254.3" x2="293.4" y2="257.2" stroke="#111" stroke-width="1.3"/>
<path d="M287,258.6 L292.7,254.3 L294.0,260.2 Z" fill="#111"/>
<line x1="339" y1="322" x2="293.4" y2="312.3" stroke="#111" stroke-width="1.3"/>
<path d="M287,310.9 L294.0,309.3 L292.7,315.2 Z" fill="#111"/>
<line x1="362" y1="324.3" x2="410.7" y2="312.5" stroke="#111" stroke-width="1.3"/>
<path d="M417,311 L411.4,315.4 L410.0,309.6 Z" fill="#111"/>
<line x1="203" y1="226" x2="216.0" y2="215.2" stroke="#111" stroke-width="1.3"/>
<path d="M221,211 L217.9,217.5 L214.1,212.9 Z" fill="#111"/>
<line x1="229.3" y1="453.6" x2="218.3" y2="467.8" stroke="#111" stroke-width="1.3"/>
<path d="M214.3,472.9 L215.9,465.9 L220.7,469.6 Z" fill="#111"/>
<line x1="281.4" y1="362.9" x2="290.6" y2="355.5" stroke="#111" stroke-width="1.3"/>
<path d="M295.7,351.4 L292.5,357.8 L288.8,353.1 Z" fill="#111"/>
<line x1="351.7" y1="162" x2="352.6" y2="160.9" stroke="#111" stroke-width="1.3"/>
<path d="M356.9,156 L354.9,162.9 L350.4,158.9 Z" fill="#111"/>
<line x1="396.3" y1="112" x2="386.5" y2="112.0" stroke="#111" stroke-width="1.3"/>
<path d="M380,112 L386.5,109.0 L386.5,115.0 Z" fill="#111"/>
<line x1="464" y1="96.4" x2="475.7" y2="90.1" stroke="#111" stroke-width="1.3"/>
<path d="M481.4,87 L477.1,92.7 L474.3,87.5 Z" fill="#111"/>
<line x1="525.4" y1="324.3" x2="514.1" y2="311.8" stroke="#111" stroke-width="1.3"/>
<path d="M509.7,307 L516.3,309.8 L511.8,313.8 Z" fill="#111"/>
<circle cx="311.4" cy="136.4" r="12.5" fill="#fff" stroke="#111" stroke-width="1.8"/><path d="M308.80,141.40 L312.20,141.40 L313.80,131.40 L311.40,131.40 L309.10,132.60 L308.90,134.20 L310.00,133.80Z" fill="#111"/>
<circle cx="318.6" cy="251.4" r="12.5" fill="#fff" stroke="#111" stroke-width="1.8"/><text transform="translate(318.6,257.0) scale(1.2,1)" x="0" y="0" text-anchor="middle" font-family="Liberation Serif" font-size="16.5" font-weight="bold" font-style="italic" fill="#111" stroke="#111" stroke-width="1.3">2</text>
<circle cx="350.8" cy="327.5" r="12.5" fill="#fff" stroke="#111" stroke-width="1.8"/><text transform="translate(350.8,333.1) scale(1.2,1)" x="0" y="0" text-anchor="middle" font-family="Liberation Serif" font-size="16.5" font-weight="bold" font-style="italic" fill="#111" stroke="#111" stroke-width="1.3">3</text>
<circle cx="194" cy="237" r="12.5" fill="#fff" stroke="#111" stroke-width="1.8"/><text transform="translate(194,242.6) scale(1.2,1)" x="0" y="0" text-anchor="middle" font-family="Liberation Serif" font-size="16.5" font-weight="bold" font-style="italic" fill="#111" stroke="#111" stroke-width="1.3">4</text>
<circle cx="237.1" cy="441.4" r="12.5" fill="#fff" stroke="#111" stroke-width="1.8"/><text transform="translate(237.1,447.0) scale(1.2,1)" x="0" y="0" text-anchor="middle" font-family="Liberation Serif" font-size="16.5" font-weight="bold" font-style="italic" fill="#111" stroke="#111" stroke-width="1.3">5</text>
<circle cx="270" cy="368.6" r="12.5" fill="#fff" stroke="#111" stroke-width="1.8"/><text transform="translate(270,374.20000000000005) scale(1.2,1)" x="0" y="0" text-anchor="middle" font-family="Liberation Serif" font-size="16.5" font-weight="bold" font-style="italic" fill="#111" stroke="#111" stroke-width="1.3">7</text>
<circle cx="342.3" cy="171.4" r="12.5" fill="#fff" stroke="#111" stroke-width="1.8"/><text transform="translate(342.3,177.0) scale(1.2,1)" x="0" y="0" text-anchor="middle" font-family="Liberation Serif" font-size="16.5" font-weight="bold" font-style="italic" fill="#111" stroke="#111" stroke-width="1.3">8</text>
<circle cx="409.1" cy="112.3" r="12.5" fill="#fff" stroke="#111" stroke-width="1.8"/><text transform="translate(409.1,117.89999999999999) scale(1.2,1)" x="0" y="0" text-anchor="middle" font-family="Liberation Serif" font-size="16.5" font-weight="bold" font-style="italic" fill="#111" stroke="#111" stroke-width="1.3">9</text>
<circle cx="453.6" cy="105" r="12.5" fill="#fff" stroke="#111" stroke-width="1.8"/><path d="M447.60,110.00 L451.00,110.00 L452.60,100.00 L450.20,100.00 L447.90,101.20 L447.70,102.80 L448.80,102.40Z M454.20,110.00 L457.60,110.00 L459.20,100.00 L456.80,100.00 L454.50,101.20 L454.30,102.80 L455.40,102.40Z" fill="#111"/>
<circle cx="531.7" cy="336.9" r="12.5" fill="#fff" stroke="#111" stroke-width="1.8"/><text x="523.3000000000001" y="342.09999999999997" font-family="Liberation Serif" font-size="14.5" font-weight="bold" font-style="italic" fill="#111" stroke="#111" stroke-width="1.3" textLength="17.5" lengthAdjust="spacingAndGlyphs">24</text>
<rect x="284.5" y="9" width="131.5" height="23" rx="6" fill="url(#gLogo)" stroke="#505050" stroke-width="0.9"/>
<rect x="286" y="10.5" width="128.5" height="20" rx="5" fill="none" stroke="#f0f0f0" stroke-width="1" opacity="0.8"/>
<text x="289" y="29.3" font-size="23" font-weight="bold" font-style="italic" fill="#12161a" stroke="#12161a" stroke-width="1.4" textLength="120" lengthAdjust="spacingAndGlyphs">P<tspan font-size="18" dy="-1.5">OWERFLEX</tspan></text>
<text x="318.5" y="41.3" font-size="14.5" font-weight="bold" fill="#d99c32" stroke="#3a2608" stroke-width="0.5" textLength="91" lengthAdjust="spacingAndGlyphs">Black Series</text>
<line x1="392" y1="35" x2="414" y2="35" stroke="#2a2010" stroke-width="0.6"/>
<text x="319.5" y="51.8" font-size="6.5" font-weight="bold" fill="#eedc5c" textLength="93" lengthAdjust="spacingAndGlyphs">Designed for the Track  -  Ready to Race</text>
<text x="226.8" y="68" font-size="15" font-weight="bold" font-style="italic" fill="#0a0a0a" stroke="#0a0a0a" stroke-width="1.1" textLength="18.6" lengthAdjust="spacingAndGlyphs">A3</text>
<text x="250.2" y="68" font-size="15" font-weight="bold" font-style="italic" fill="#0a0a0a" stroke="#0a0a0a" stroke-width="1.1" textLength="31.2" lengthAdjust="spacingAndGlyphs">MK1</text>
<text x="284.8" y="68" font-size="15" font-weight="bold" font-style="italic" fill="#0a0a0a" stroke="#0a0a0a" stroke-width="1.1" textLength="25.9" lengthAdjust="spacingAndGlyphs">TYP</text>
<text x="314.3" y="68" font-size="15" font-weight="bold" font-style="italic" fill="#0a0a0a" stroke="#0a0a0a" stroke-width="1.1" textLength="18.7" lengthAdjust="spacingAndGlyphs">8L</text>
<text x="336.6" y="68" font-size="15" font-weight="bold" font-style="italic" fill="#0a0a0a" stroke="#0a0a0a" stroke-width="1.1" textLength="32.1" lengthAdjust="spacingAndGlyphs">2WD</text>
<text x="375" y="68" font-size="15" font-weight="bold" font-style="italic" fill="#0a0a0a" stroke="#0a0a0a" stroke-width="1.1" textLength="95.5" lengthAdjust="spacingAndGlyphs">(1996-2003)</text>
</svg></body></html>
